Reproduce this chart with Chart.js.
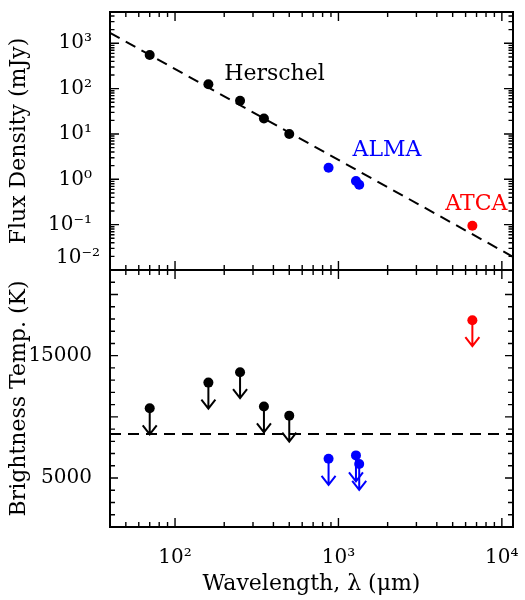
<!DOCTYPE html>
<html>
<head>
<meta charset="utf-8">
<script src="https://cdn.jsdelivr.net/npm/chart.js@4.4.0/dist/chart.umd.min.js"></script>
<style>
  body { margin: 0; background: #fff; }
  #wrap { position: relative; width: 525px; height: 600px; }
  canvas { position: absolute; left: 0; }
</style>
</head>
<body>
<div id="wrap">
  <canvas id="fluxChart" width="525" height="285" style="top:0"></canvas>
  <canvas id="tempChart" width="525" height="340" style="top:260px"></canvas>
</div>
<script>
// wavelengths (micron)
const herschelWave = [70, 160, 250, 350, 500];
const almaWave = [870, 1280, 1340];
const atcaWave = [6600];

// flux density (mJy)
const herschelFlux = [550, 125, 54, 22, 10];
const almaFlux = [1.8, 0.92, 0.76];
const atcaFlux = [0.095];

// brightness temperature upper limits (K)
const herschelTb = [10700, 12800, 13650, 10850, 10100];
const almaTb = [6570, 6850, 6150];
const atcaTb = [17900];

// dashed lines (at the frame edges)
const modelWave = [40, 11700];
const modelFlux = [1700, 0.0195];
const tbLineWave = [40, 11700];
const tbLineK = [8600, 8600];

// axis ticks
const fluxTicks = [0.01, 0.1, 1, 10, 100, 1000];
const fluxTickLabels = ['10⁻²', '10⁻¹', '10⁰', '10¹', '10²', '10³'];
const waveTicks = [100, 1000, 10000];
const waveTickLabels = ['10²', '10³', '10⁴'];
const tbTicks = [5000, 15000];

// instrument labels (anchored in data units: left edge, vertical middle)
const labelText = ['Herschel', 'ALMA', 'ATCA'];
const labelWave = [200, 1220, 4510];
const labelFlux = [211, 4.35, 0.275];
const labelColor = ['#000000', '#0000ff', '#ff0000'];

const serif = 'DejaVu Serif';
Chart.defaults.font.family = serif;
Chart.defaults.color = '#000';

const pts = (xs, ys) => xs.map((x, i) => ({ x: x, y: ys[i] }));

// drop the label overhang padding so the plot box lands where we want it
function noPad(s) {
  s.paddingTop = 0; s.paddingBottom = 0;
  s.paddingLeft = 0; s.paddingRight = 0;
}

function logTicks(min, max) {
  const out = [];
  for (let d = -3; d <= 5; d++) {
    for (let m = 1; m <= 9; m++) {
      const v = m * Math.pow(10, d);
      if (v >= min * 0.999 && v <= max * 1.001) out.push({ v: v, major: m === 1 });
    }
  }
  return out;
}

// IDL style box with inward ticks on all four sides
const framePlugin = {
  id: 'frame',
  afterDraw(chart) {
    const { ctx, chartArea: a, scales } = chart;
    ctx.save();
    ctx.strokeStyle = '#000';
    ctx.lineWidth = 1.4;
    ctx.beginPath();
    logTicks(scales.x.min, scales.x.max).forEach(t => {
      const px = scales.x.getPixelForValue(t.v);
      const len = t.major ? 9 : 5;
      ctx.moveTo(px, a.top); ctx.lineTo(px, a.top + len);
      ctx.moveTo(px, a.bottom); ctx.lineTo(px, a.bottom - len);
    });
    let yt;
    if (scales.y.type === 'logarithmic') {
      yt = logTicks(scales.y.min, scales.y.max).map(t => ({ v: t.v, len: t.major ? 9 : 4.5 }));
    } else {
      yt = [];
      for (let v = 1000; v <= scales.y.max; v += 1000) yt.push({ v: v, len: v % 5000 === 0 ? 8 : 5 });
    }
    yt.forEach(t => {
      const py = scales.y.getPixelForValue(t.v);
      ctx.moveTo(a.left, py); ctx.lineTo(a.left + t.len, py);
      ctx.moveTo(a.right, py); ctx.lineTo(a.right - t.len, py);
    });
    ctx.stroke();
    ctx.lineWidth = 2;
    ctx.strokeRect(a.left, a.top, a.right - a.left, a.bottom - a.top);
    ctx.restore();
  }
};

// downward arrows for upper limits
const arrowPlugin = {
  id: 'arrows',
  beforeDatasetsDraw(chart) {
    const ctx = chart.ctx;
    chart.data.datasets.forEach((ds, i) => {
      if (!ds.upperLimit) return;
      chart.getDatasetMeta(i).data.forEach(pt => {
        const x = pt.x, y1 = pt.y + 26;
        ctx.save();
        ctx.strokeStyle = ds.borderColor;
        ctx.lineWidth = 2;
        ctx.beginPath();
        ctx.moveTo(x, pt.y); ctx.lineTo(x, y1);
        ctx.moveTo(x - 7, y1 - 9); ctx.lineTo(x, y1); ctx.lineTo(x + 7, y1 - 9);
        ctx.stroke();
        ctx.restore();
      });
    });
  }
};

// instrument names and the raised 10^-2 label
const labelPlugin = {
  id: 'labels',
  afterDraw(chart) {
    const { ctx, scales } = chart;
    ctx.save();
    ctx.font = '22px "' + serif + '"';
    ctx.textBaseline = 'middle';
    ctx.textAlign = 'left';
    labelText.forEach((t, i) => {
      ctx.fillStyle = labelColor[i];
      ctx.fillText(t, scales.x.getPixelForValue(labelWave[i]), scales.y.getPixelForValue(labelFlux[i]));
    });
    ctx.fillStyle = '#000';
    ctx.textAlign = 'right';
    ctx.font = '20px "' + serif + '"';
    ctx.fillText(fluxTickLabels[0], chart.chartArea.left - 10, scales.y.getPixelForValue(fluxTicks[0]) - 12);
    ctx.restore();
  }
};

const dot = (data, color, extra) => Object.assign({
  data: data,
  backgroundColor: color,
  borderColor: color,
  pointRadius: 5,
  pointBorderWidth: 0
}, extra || {});

const dashed = data => ({
  type: 'line',
  data: data,
  borderColor: '#000',
  borderWidth: 2,
  borderDash: [11, 7],
  pointRadius: 0,
  fill: false
});

new Chart(document.getElementById('fluxChart'), {
  type: 'scatter',
  data: {
    datasets: [
      dashed(pts(modelWave, modelFlux)),
      dot(pts(herschelWave, herschelFlux), '#000000'),
      dot(pts(almaWave, almaFlux), '#0000ff'),
      dot(pts(atcaWave, atcaFlux), '#ff0000')
    ]
  },
  options: {
    responsive: false,
    animation: false,
    plugins: { legend: { display: false }, tooltip: { enabled: false } },
    layout: { padding: { left: 0, right: 12, top: 12, bottom: 15 } },
    scales: {
      x: { type: 'logarithmic', min: 40, max: 11700, display: false },
      y: {
        type: 'logarithmic', min: 0.01, max: 4900,
        afterFit: s => { s.width = 110; noPad(s); },
        afterBuildTicks: s => { s.ticks = fluxTicks.map(v => ({ value: v })); },
        grid: { display: false },
        border: { display: false },
        ticks: {
          padding: 10,
          font: { size: 20 },
          callback: v => (v === fluxTicks[0] ? '' : fluxTickLabels[fluxTicks.indexOf(v)])
        },
        title: { display: true, text: 'Flux Density (mJy)', font: { size: 22 }, padding: { top: 6, bottom: 0 } }
      }
    }
  },
  plugins: [framePlugin, labelPlugin]
});

new Chart(document.getElementById('tempChart'), {
  type: 'scatter',
  data: {
    datasets: [
      dashed(pts(tbLineWave, tbLineK)),
      dot(pts(herschelWave, herschelTb), '#000000', { upperLimit: true }),
      dot(pts(almaWave, almaTb), '#0000ff', { upperLimit: true }),
      dot(pts(atcaWave, atcaTb), '#ff0000', { upperLimit: true })
    ]
  },
  options: {
    responsive: false,
    animation: false,
    plugins: { legend: { display: false }, tooltip: { enabled: false } },
    layout: { padding: { left: 0, right: 12, top: 10, bottom: 0 } },
    scales: {
      x: {
        type: 'logarithmic', min: 40, max: 11700,
        afterFit: s => { s.height = 73; noPad(s); },
        afterBuildTicks: s => { s.ticks = waveTicks.map(v => ({ value: v })); },
        grid: { display: false },
        border: { display: false },
        ticks: {
          padding: 11,
          maxRotation: 0,
          font: { size: 20 },
          callback: v => waveTickLabels[waveTicks.indexOf(v)]
        },
        title: { display: true, text: 'Wavelength, λ (μm)', font: { size: 22 }, padding: { top: 0, bottom: 3 } }
      },
      y: {
        type: 'linear', min: 1000, max: 22000,
        afterFit: s => { s.width = 110; noPad(s); },
        afterBuildTicks: s => { s.ticks = tbTicks.map(v => ({ value: v })); },
        grid: { display: false },
        border: { display: false },
        ticks: { padding: 10, font: { size: 20 }, callback: v => String(v) },
        title: { display: true, text: 'Brightness Temp. (K)', font: { size: 22 }, padding: { top: 6, bottom: 0 } }
      }
    }
  },
  plugins: [framePlugin, arrowPlugin]
});
</script>
</body>
</html>
